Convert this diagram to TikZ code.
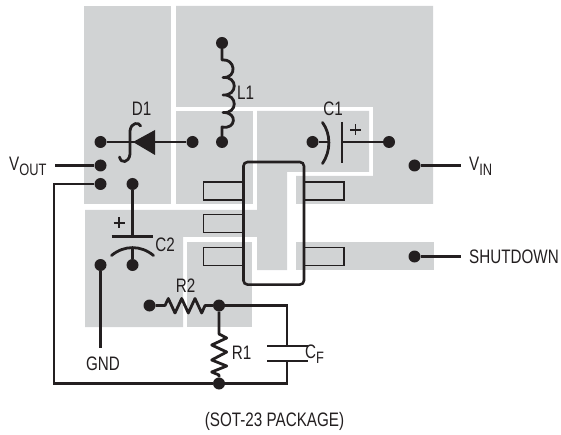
\documentclass[tikz,border=0pt]{standalone}
\usepackage{fontspec}
\setmainfont[FakeStretch=0.78]{Liberation Sans}
\definecolor{pad}{HTML}{D1D3D4}
\definecolor{ink}{HTML}{231F20}
\tikzset{
  padfill/.style={fill=pad,draw=none},
  wire/.style={draw=ink,line width=2.8pt,line join=miter},
  sym/.style={draw=ink,line width=2.8pt,line cap=round,line join=round},
  pin/.style={draw=ink,line width=1.1pt},
  dot/.style={circle,fill=ink,draw=none,minimum size=12pt,inner sep=0pt},
  lbl/.style={text=ink,font=\fontsize{19.5}{21}\selectfont,inner sep=0pt}
}
\newcommand{\lsub}[1]{\raisebox{-5pt}{\fontsize{16.5}{18}\selectfont #1}}
\begin{document}
\begin{tikzpicture}[x=1pt,y=-1pt]
\useasboundingbox (0,0) rectangle (561,435);
% copper pads
\fill[padfill] (84,6) rectangle (171,204);
\fill[padfill] (176,111) rectangle (253,204);
\fill[padfill] (176,6) -- (433,6) -- (433,204) -- (296,204) -- (296,176) -- (373,176) -- (373,107) -- (176,107) -- cycle;
\fill[padfill] (257,111) -- (369,111) -- (369,172) -- (287,172) -- (287,270) -- (257,270) -- (257,237) -- (183,237) -- (183,327) -- (85,327) -- (85,210) -- (257,210) -- cycle;
\fill[padfill] (187,242) rectangle (252,327);
\fill[padfill] (296,242) rectangle (434,270);
% package pins
\node[pin,minimum width=40pt,minimum height=18pt,inner sep=0pt] (p1) at (223.5,191) {};
\node[pin,minimum width=40pt,minimum height=18pt,inner sep=0pt] (p2) at (223.5,223.3) {};
\node[pin,minimum width=40pt,minimum height=18pt,inner sep=0pt] (p3) at (223.5,256.3) {};
\node[pin,minimum width=40pt,minimum height=18pt,inner sep=0pt] (p4) at (324,191) {};
\node[pin,minimum width=40pt,minimum height=18pt,inner sep=0pt] (p5) at (324,256.3) {};
% IC body
\node[draw=ink,line width=2.6pt,rounded corners=4pt,minimum width=60.5pt,minimum height=122.5pt,inner sep=0pt] (ic) at (273.7,223.3) {};
% dots
\node[dot] (ltop) at (222,43) {};
\node[dot] (lbot) at (222,142) {};
\node[dot] (dl) at (100.5,142) {};
\node[dot] (dr) at (192.5,142) {};
\node[dot] (vout) at (100.5,165.5) {};
\node[dot] (fb) at (100.5,184) {};
\node[dot] (c2t) at (132.5,184) {};
\node[dot] (c2b) at (132.5,265) {};
\node[dot] (gnd) at (100.5,265) {};
\node[dot] (c1l) at (312.5,142) {};
\node[dot] (c1r) at (389,142) {};
\node[dot] (vin) at (414.5,165.5) {};
\node[dot] (shdn) at (414.5,256.5) {};
\node[dot] (r2l) at (149.5,305.5) {};
\node[dot] (mid) at (219,305.5) {};
\node[dot] (bot) at (219,383.5) {};
% free ends
\coordinate (voutend) at (55,165.5);
\coordinate (vinend) at (461,165.5);
\coordinate (shdnend) at (461,256.5);
\coordinate (gndend) at (100.5,348);
\coordinate (c1top) at (287,346);
\coordinate (c1bot) at (287,361);
\coordinate (c1curve) at (328.5,142);
\coordinate (c1plate) at (342,142);
% wires
\draw[wire] (voutend) -- (vout);
\draw[wire] (vin) -- (vinend);
\draw[wire] (shdn) -- (shdnend);
\draw[wire] (gnd) -- (gndend);
\draw[wire] (dl) -- (dr);
\draw[wire] (c1l) -- (c1curve);
\draw[wire] (c1plate) -- (c1r);
\draw[wire] (fb) -- (54,184) -- (54,383.5) -- (bot);
\draw[wire] (bot) -- (287,383.5) -- (c1bot);
\draw[wire] (mid) -- (287,305.5) -- (c1top);
% diode
\fill[ink] (133,142) -- (155,130) -- (155,155) -- cycle;
\draw[sym] (140.7,126) .. controls (139,122) and (131,122) .. (130,131) -- (130,154) .. controls (129,163) and (121,164) .. (119.5,157);
% inductor
\draw[sym,line cap=butt] (ltop) -- (222,60)
  .. controls (235,58) and (238,78) .. (223,77.5)
  .. controls (238,76) and (238,96) .. (223,95)
  .. controls (238,94) and (238,114) .. (223,112.5)
  .. controls (238,112) and (236,130) .. (222,127) -- (lbot);
% C1
\draw[sym] (322.5,122.5) .. controls (331,134) and (331,151) .. (322.5,163.5);
\draw[sym,line cap=butt] (342,122) -- (342,163);
\draw[draw=ink,line width=1.6pt] (350,130) -- (361,130) (355.5,124.5) -- (355.5,135.5);
% C2
\draw[wire] (c2t) -- (132.5,236.5);
\draw[sym,line cap=butt] (111.5,236.5) -- (153,236.5);
\draw[sym] (111.5,255.5) .. controls (124,245) and (141,245) .. (153.5,255.5);
\draw[wire] (132.5,249) -- (c2b);
\draw[draw=ink,line width=1.6pt] (113.5,223) -- (124.5,223) (119,217.5) -- (119,228.5);
% CF plates
\draw[sym,line cap=butt] (267,346) -- (308,346);
\draw[sym,line cap=butt] (267,361) -- (308,361);
% R2
\draw[sym,line cap=butt] (r2l) -- (165,305.5) -- (168.3,298.5) -- (175,313) -- (181.7,298.5) -- (188.3,313) -- (195,298.5) -- (201.7,313) -- (205,305.5) -- (mid);
% R1
\draw[sym,line cap=butt] (mid) -- (219,334) -- (226.7,338) -- (211.7,345) -- (226.7,352) -- (211.7,360) -- (226.7,366) -- (211.7,372) -- (219,375) -- (bot);
% labels
\node[lbl] (td1) at (141.5,109) {D1};
\node[lbl] (tl1) at (245.7,93) {L1};
\node[lbl] (tc1) at (333,108.7) {C1};
\node[lbl] (tc2) at (165,245) {C2};
\node[lbl] (tr2) at (185.7,286) {R2};
\node[lbl] (tr1) at (241.7,353) {R1};
\node[lbl,anchor=west] (tcf) at (305,354) {C\lsub{F}};
\node[lbl,anchor=west] (tvout) at (9,166) {V\lsub{OUT}};
\node[lbl,anchor=west] (tvin) at (469,166) {V\lsub{IN}};
\node[lbl,anchor=west] (tsd) at (469,256.5) {SHUTDOWN};
\node[lbl] (tgnd) at (103,363.5) {GND};
\node[lbl] (tpkg) at (274.5,421) {(SOT-23 PACKAGE)};
\end{tikzpicture}
\end{document}
